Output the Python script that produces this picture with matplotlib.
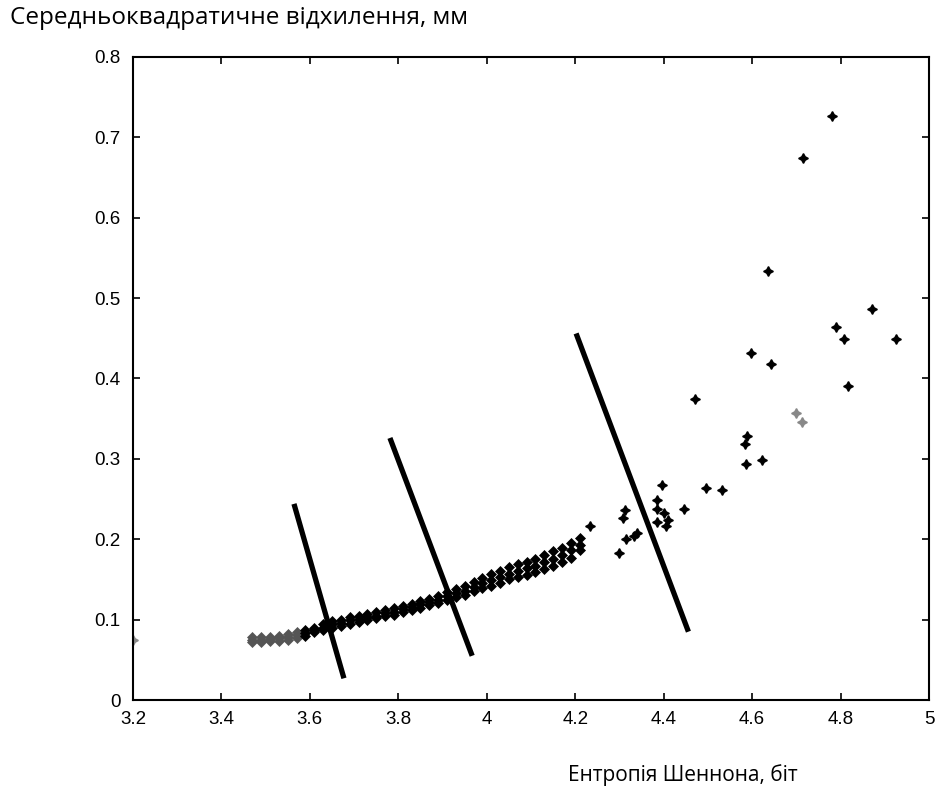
import matplotlib
matplotlib.use("Agg")
import matplotlib.pyplot as plt

# --- data ---
# dense band of points (lower edge, middle, upper edge)
band_x = [3.47, 3.49, 3.51, 3.53, 3.55, 3.57, 3.59, 3.61, 3.63, 3.65,
          3.67, 3.69, 3.71, 3.73, 3.75, 3.77, 3.79, 3.81, 3.83, 3.85,
          3.87, 3.89, 3.91, 3.93, 3.95, 3.97, 3.99, 4.01, 4.03, 4.05,
          4.07, 4.09, 4.11, 4.13, 4.15, 4.17, 4.19, 4.21]
band_lo = [.072, .072, .073, .074, .075, .077, .080, .084, .087, .090,
           .092, .095, .097, .100, .102, .104, .106, .109, .112, .115,
           .118, .121, .125, .128, .131, .135, .139, .142, .146, .150,
           .153, .156, .159, .163, .167, .172, .177, .186]
band_mid = [.075, .075, .076, .077, .078, .081, .083, .087, .090, .094,
            .096, .099, .101, .103, .105, .108, .110, .113, .116, .119,
            .122, .125, .129, .133, .136, .141, .145, .149, .153, .157,
            .161, .164, .167, .172, .176, .180, .186, .193]
band_hi = [.078, .079, .079, .080, .082, .085, .087, .090, .094, .098,
           .100, .103, .105, .107, .109, .112, .114, .117, .120, .123,
           .126, .130, .134, .138, .142, .147, .152, .157, .161, .165,
           .169, .172, .176, .181, .185, .189, .195, .201]

# scattered points
pts_x = [4.234, 4.30, 4.315, 4.332, 4.339, 4.307, 4.312, 4.386, 4.406,
         4.386, 4.410, 4.401, 4.386, 4.447, 4.397, 4.470, 4.496, 4.533, 4.583,
         4.588, 4.587, 4.623, 4.597, 4.643, 4.636, 4.714, 4.781, 4.790, 4.808,
         4.816, 4.871, 4.926]
pts_y = [0.216, 0.183, 0.200, 0.204, 0.208, 0.226, 0.237, 0.222, 0.216,
         0.238, 0.224, 0.233, 0.249, 0.238, 0.268, 0.375, 0.264, 0.261, 0.318,
         0.328, 0.293, 0.299, 0.432, 0.418, 0.534, 0.674, 0.726, 0.464, 0.449,
         0.391, 0.486, 0.449]
grey_x = [3.20, 4.699, 4.712]
grey_y = [0.075, 0.357, 0.346]

# three dividing lines
line_x = [[3.564, 3.677], [3.781, 3.967], [4.202, 4.456]]
line_y = [[0.244, 0.027], [0.326, 0.055], [0.456, 0.085]]

xticks = [3.2, 3.4, 3.6, 3.8, 4.0, 4.2, 4.4, 4.6, 4.8, 5.0]
xlabels = ["3.2", "3.4", "3.6", "3.8", "4", "4.2", "4.4", "4.6", "4.8", "5"]
yticks = [0, 0.1, 0.2, 0.3, 0.4, 0.5, 0.6, 0.7, 0.8]
ylabels = ["0", "0.1", "0.2", "0.3", "0.4", "0.5", "0.6", "0.7", "0.8"]

fig = plt.figure(figsize=(9.36, 7.89), dpi=100)
ax = fig.add_axes([0.1421, 0.1128, 0.8504, 0.815])

star = (4, 1, 0)
for i, x in enumerate(band_x):
    c = "#555555" if x < 3.58 else "black"
    ax.plot([x] * 3, [band_lo[i], band_mid[i], band_hi[i]], marker="D",
            ms=5.5, color=c, mec=c, mew=0.5, ls="none")
ax.plot(pts_x, pts_y, marker=star, ms=7, color="black", ls="none")
ax.plot(grey_x, grey_y, marker=star, ms=7, color="#888888", ls="none")

for lx, ly in zip(line_x, line_y):
    ax.plot(lx, ly, color="black", lw=3.8, solid_capstyle="butt")

ax.set_xlim(3.2, 5)
ax.set_ylim(0, 0.8)
ax.set_xticks(xticks)
ax.set_xticklabels(xlabels, family="Liberation Sans", fontsize=13.5)
ax.set_yticks(yticks)
ax.set_yticklabels(ylabels, family="Liberation Sans", fontsize=13.5)
ax.tick_params(direction="in", top=True, right=True, length=5, width=1.2)
ax.tick_params(axis="x", pad=8)
ax.tick_params(axis="y", pad=9)
for s in ax.spines.values():
    s.set_linewidth(1.5)

fig.text(10 / 936, 1 - 18 / 789, "Середньоквадратичне відхилення, мм",
         family="Open Sans", fontsize=17.5, ha="left", va="center")
fig.text(683 / 936, 1 - 775 / 789, "Ентропія Шеннона, біт",
         family="Open Sans", fontsize=15, ha="center", va="center")

fig.savefig("out.png", dpi=100)
